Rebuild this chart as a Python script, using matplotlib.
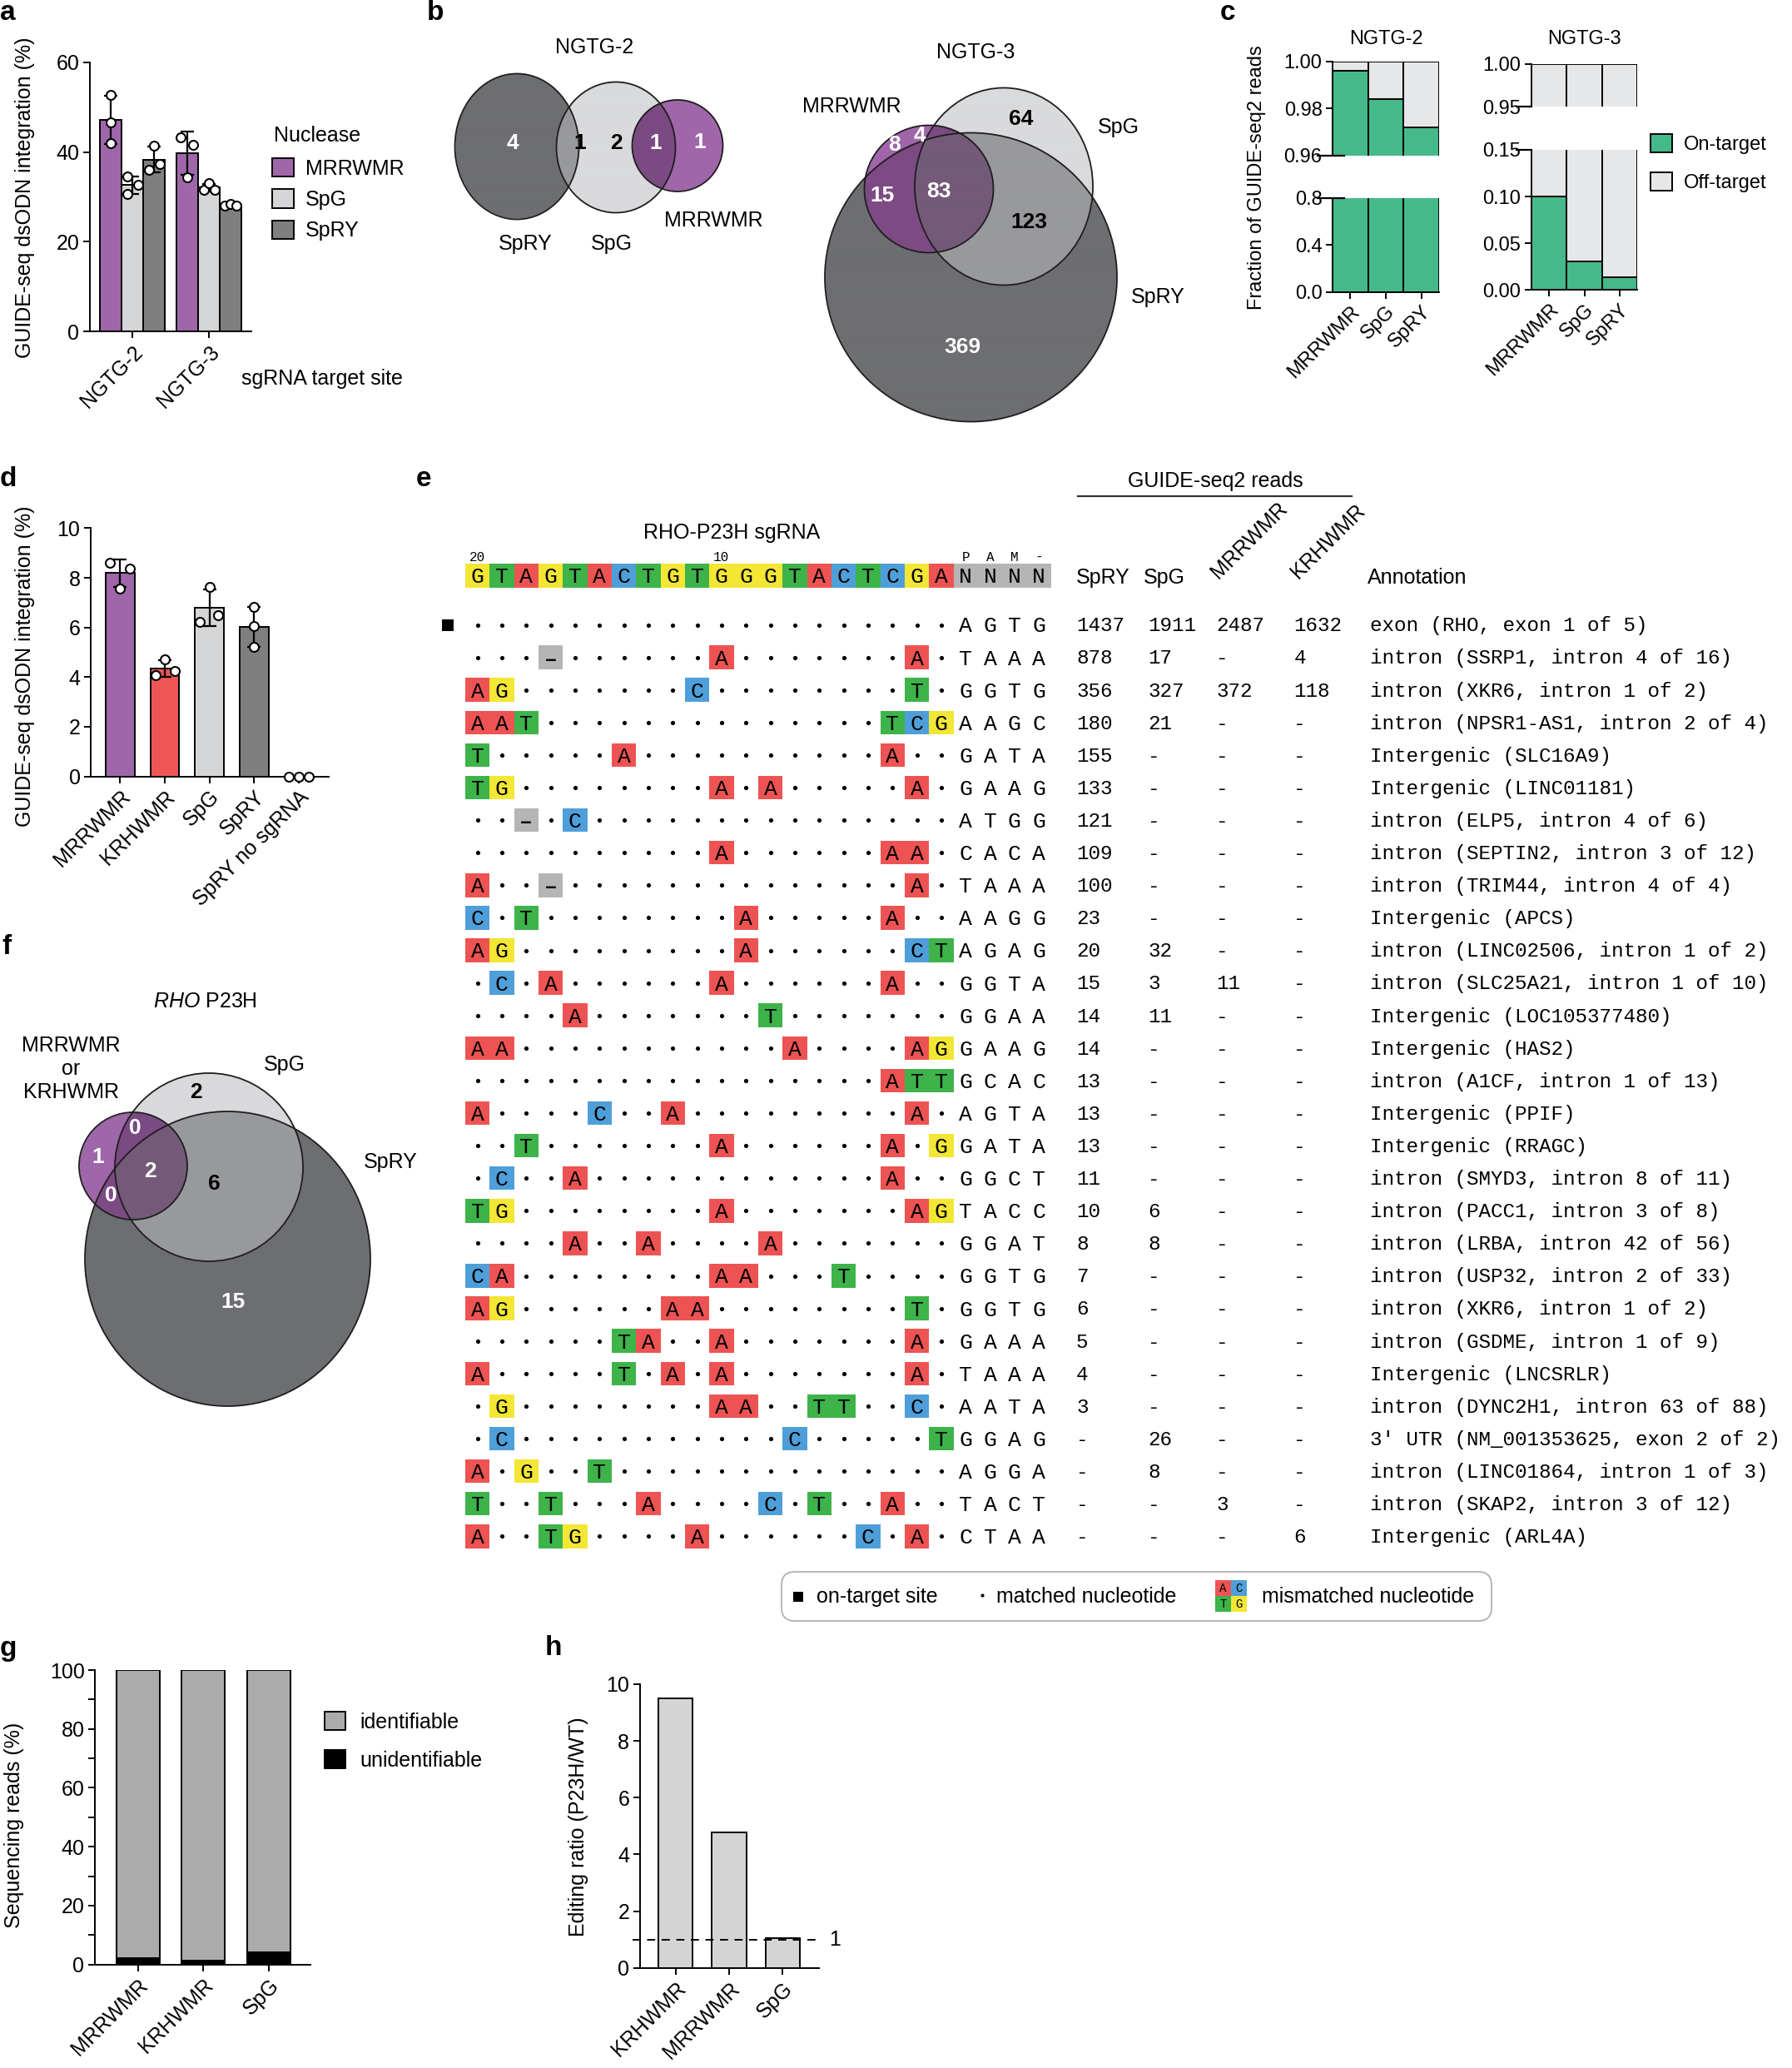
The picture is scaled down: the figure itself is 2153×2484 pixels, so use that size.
# Multi-panel figure: GUIDE-seq of SpRY-derived nucleases (panels a-h)
import numpy as np
import matplotlib.pyplot as plt
from matplotlib.colors import to_rgba
from matplotlib.patches import Rectangle, Ellipse, FancyBboxPatch, Patch
from matplotlib.transforms import blended_transform_factory

SANS = ['Liberation Sans', 'DejaVu Sans']
MONO = ['Liberation Mono', 'DejaVu Sans Mono']
plt.rcParams['font.family'] = SANS
plt.rcParams['mathtext.fontset'] = 'custom'
plt.rcParams['mathtext.rm'] = 'Liberation Sans'
plt.rcParams['mathtext.it'] = 'Liberation Sans:italic'

FS = 18      # general text size
FS_C = 17    # panel c text size

# ---------------- data ----------------
# a: GUIDE-seq dsODN integration (%), three replicates per site
a_sites = ['NGTG-2', 'NGTG-3']
a_nucleases = ['MRRWMR', 'SpG', 'SpRY']
a_mrrwmr = [[52.7, 46.7, 42.0], [43.3, 41.6, 34.3]]
a_spg = [[34.6, 32.7, 30.6], [31.6, 33.0, 31.6]]
a_spry = [[41.5, 36.0, 37.4], [28.1, 28.4, 28.1]]

# b: overlap of off-target sites (venn region counts)
b_ngtg2_counts = [4, 1, 2, 1, 1]          # SpRY, SpRY&SpG, SpG, SpG&MRRWMR, MRRWMR
b_ngtg3_counts = [64, 8, 4, 15, 83, 123, 369]  # SpG, MRR, MRR&SpG, MRR&SpRY, all, SpG&SpRY, SpRY

# c: fraction of on-target GUIDE-seq2 reads
c_nucleases = ['MRRWMR', 'SpG', 'SpRY']
c_ngtg2_on = [0.996, 0.984, 0.972]
c_ngtg3_on = [0.100, 0.031, 0.014]

# d: RHO-P23H GUIDE-seq dsODN integration (%)
d_nucleases = ['MRRWMR', 'KRHWMR', 'SpG', 'SpRY', 'SpRY no sgRNA']
d_reps = [[8.62, 8.38, 7.56], [4.06, 4.70, 4.24], [7.62, 6.22, 6.50],
          [6.83, 6.04, 5.21], [0.0, 0.0, 0.0]]

# e: off-target sites for RHO-P23H sgRNA
e_guide = 'GTAGTACTGTGGGTACTCGA'
e_pam_header = 'NNNN'
e_sites = [
    '....................', '...-......A.......A.', 'AG.......C........T.',
    'AAT..............TCG', 'T.....A..........A..', 'TG........A.A.....A.',
    '..-.C...............', '..........A......AA.', 'A..-..............A.',
    'C.T........A.....A..', 'AG.........A......CT', '.C.A......A......A..',
    '....A.......T.......', 'AA...........A....AG', '.................ATT',
    'A....C..A.........A.', '..T.......A......A.G', '.C..A............A..',
    'TG........A.......AG', '....A..A....A.......', 'CA........AA...T....',
    'AG......AA........T.', '......TA..A.......A.', 'A.....T.A.A.......A.',
    '.G........AA..TT..C.', '.C...........C.....T', 'A.G..T..............',
    'T..T...A....C.T..A..', 'A..TG....A......C.A.',
]
e_pams = ['AGTG', 'TAAA', 'GGTG', 'AAGC', 'GATA', 'GAAG', 'ATGG', 'CACA', 'TAAA',
          'AAGG', 'AGAG', 'GGTA', 'GGAA', 'GAAG', 'GCAC', 'AGTA', 'GATA', 'GGCT',
          'TACC', 'GGAT', 'GGTG', 'GGTG', 'GAAA', 'TAAA', 'AATA', 'GGAG', 'AGGA',
          'TACT', 'CTAA']
N = None
e_spry = [1437, 878, 356, 180, 155, 133, 121, 109, 100, 23, 20, 15, 14, 14, 13,
          13, 13, 11, 10, 8, 7, 6, 5, 4, 3, N, N, N, N]
e_spg = [1911, 17, 327, 21, N, N, N, N, N, N, 32, 3, 11, N, N,
         N, N, N, 6, 8, N, N, N, N, N, 26, 8, N, N]
e_mrrwmr = [2487, N, 372, N, N, N, N, N, N, N, N, 11, N, N, N,
            N, N, N, N, N, N, N, N, N, N, N, N, 3, N]
e_krhwmr = [1632, 4, 118, N, N, N, N, N, N, N, N, N, N, N, N,
            N, N, N, N, N, N, N, N, N, N, N, N, N, 6]
e_annot = [
    'exon (RHO, exon 1 of 5)', 'intron (SSRP1, intron 4 of 16)',
    'intron (XKR6, intron 1 of 2)', 'intron (NPSR1-AS1, intron 2 of 4)',
    'Intergenic (SLC16A9)', 'Intergenic (LINC01181)', 'intron (ELP5, intron 4 of 6)',
    'intron (SEPTIN2, intron 3 of 12)', 'intron (TRIM44, intron 4 of 4)',
    'Intergenic (APCS)', 'intron (LINC02506, intron 1 of 2)',
    'intron (SLC25A21, intron 1 of 10)', 'Intergenic (LOC105377480)',
    'Intergenic (HAS2)', 'intron (A1CF, intron 1 of 13)', 'Intergenic (PPIF)',
    'Intergenic (RRAGC)', 'intron (SMYD3, intron 8 of 11)',
    'intron (PACC1, intron 3 of 8)', 'intron (LRBA, intron 42 of 56)',
    'intron (USP32, intron 2 of 33)', 'intron (XKR6, intron 1 of 2)',
    'intron (GSDME, intron 1 of 9)', 'Intergenic (LNCSRLR)',
    'intron (DYNC2H1, intron 63 of 88)', "3' UTR (NM_001353625, exon 2 of 2)",
    'intron (LINC01864, intron 1 of 3)', 'intron (SKAP2, intron 3 of 12)',
    'Intergenic (ARL4A)',
]

# f: RHO P23H venn counts
f_counts = [2, 0, 1, 2, 6, 0, 15]  # SpG, MRR&SpG, MRR, all, SpG&SpRY, MRR&SpRY, SpRY

# g: identifiable reads (%)
g_nucleases = ['MRRWMR', 'KRHWMR', 'SpG']
g_unident = [2.1, 1.2, 4.1]
g_ident = [97.9, 98.8, 95.9]

# h: editing ratio
h_nucleases = ['KRHWMR', 'MRRWMR', 'SpG']
h_ratio = [9.5, 4.77, 1.05]

# ---------------- colours ----------------
PURPLE, RED, LGRAY, DGRAY = '#A066AA', '#EE5656', '#D4D5D7', '#7F7F7F'
GREEN, OFF = '#46B98A', '#E6E7E8'
BASE = {'A': '#EE5353', 'C': '#4E9FD9', 'G': '#F3E634', 'T': '#3DB34A',
        '-': '#B5B5B5', 'N': '#B5B5B5'}
REGION = {1: '#A066AA', 2: '#D9DADC', 3: '#7B4A82', 4: '#6D6E72',
          5: '#7D4B84', 6: '#98999C', 7: '#745A79'}

W, H = 2153, 2484
fig = plt.figure(figsize=(W / 100, H / 100), dpi=100)


def add_ax(x0, y0, x1, y1):
    ax = fig.add_axes([x0 / W, 1 - y1 / H, (x1 - x0) / W, (y1 - y0) / H])
    ax.patch.set_alpha(0)
    return ax


# overlay in pixel coordinates for free text
ov = add_ax(0, 0, W, H)
ov.set_xlim(0, W)
ov.set_ylim(H, 0)
ov.axis('off')


def bar_style(ax, fs=FS):
    ax.spines[['top', 'right']].set_visible(False)
    ax.spines[['left', 'bottom']].set_linewidth(1.4)
    ax.tick_params(width=1.4, length=6, labelsize=fs, pad=3)


def ylabel_px(ax, text, x, y, fs=FS):
    ax.set_ylabel(text, fontsize=fs, va='center')
    ax.yaxis.set_label_coords(x, y, transform=ov.transData)


def legend_px(ax, handles, labels, x, y, **kw):
    return ax.legend(handles, labels, loc='upper left', bbox_to_anchor=(x / W, 1 - y / H),
                     bbox_transform=fig.transFigure, frameon=False, borderpad=0,
                     borderaxespad=0, **kw)


# panel letters
for letter, (x, y) in zip('abcdefgh', [(0, 15), (513, 15), (1466, 15), (0, 576),
                                       (500, 576), (2, 1137), (0, 1980), (655, 1980)]):
    ov.text(x, y, letter, fontsize=24, fontweight='bold', ha='left', va='center')

# ---------------- a ----------------
ax = add_ax(108, 75, 302, 398)
bar_style(ax)
w = 0.28
a_jit = [[[0, 0, 0], [-0.09, 0.076, 0]],
         [[-0.065, 0.076, -0.065], [-0.065, 0, 0.076]],
         [[0, -0.065, 0.076], [-0.076, 0, 0.076]]]
for i, (reps, col) in enumerate(zip([a_mrrwmr, a_spg, a_spry], [PURPLE, LGRAY, DGRAY])):
    reps = np.array(reps)
    x = np.arange(len(a_sites)) + (i - 1) * w
    ax.bar(x, reps.mean(axis=1), w, color=col, edgecolor='black', lw=1.4, zorder=2)
    ax.errorbar(x, reps.mean(axis=1), yerr=reps.std(axis=1, ddof=1), fmt='none',
                ecolor='black', elinewidth=1.6, capsize=6, capthick=1.6, zorder=3)
    for j in range(len(a_sites)):
        ax.scatter(x[j] + np.array(a_jit[i][j]), reps[j], s=62, facecolor='white',
                   edgecolor='black', lw=1.5, zorder=4, clip_on=False)
ax.set_xlim(-0.554, 1.554)
ax.set_ylim(0, 60)
ax.set_yticks([0, 20, 40, 60])
ax.set_xticks(range(2), a_sites, rotation=45, ha='right', rotation_mode='anchor')
ylabel_px(ax, 'GUIDE-seq dsODN integration (%)', 30, 237)
ov.text(290, 455, 'sgRNA target site', fontsize=FS, va='center')
ov.text(329, 163, 'Nuclease', fontsize=FS, va='center')
legend_px(ax, [Patch(fc=c, ec='black', lw=1.4) for c in [PURPLE, LGRAY, DGRAY]],
          a_nucleases, 327, 190, fontsize=FS, handlelength=1.05, handleheight=1.0,
          handletextpad=0.55, labelspacing=0.5)


# ---------------- b, f : venn diagrams ----------------
def venn3(ax, shapes, x0, y0, x1, y1, step=0.5):
    xs = np.arange(x0, x1, step)
    ys = np.arange(y0, y1, step)
    X, Y = np.meshgrid(xs, ys)
    code = np.zeros(X.shape, int)
    for bit, (ex, ey, ew, eh) in zip([1, 2, 4], shapes):
        code += bit * ((((X - ex) / (ew / 2)) ** 2 + ((Y - ey) / (eh / 2)) ** 2) <= 1)
    img = np.ones(X.shape + (4,))
    img[..., 3] = 0
    for k, col in REGION.items():
        img[code == k] = to_rgba(col)
    ax.imshow(img, extent=(x0, x1, y1, y0), origin='upper', aspect='auto',
              interpolation='bilinear')
    for ex, ey, ew, eh in shapes:
        ax.add_patch(Ellipse((ex, ey), ew, eh, fill=False, ec='#1E1E1E', lw=1.3))
    ax.set_xlim(x0, x1)
    ax.set_ylim(y1, y0)
    ax.axis('off')


axb = add_ax(520, 30, 1430, 530)
# shapes: MRRWMR, SpG, SpRY  (centre x, centre y, width, height)
venn3(axb, [(814, 175, 109, 110), (740, 177, 143, 157), (621, 176, 149, 175)],
      520, 30, 1430, 530)
venn3(axb, [(1116, 227, 155, 153), (1206, 224, 214, 237), (1166.5, 333, 351, 347)],
      520, 30, 1430, 530)
b2_pos = [(616, 172, 'white'), (697, 172, 'black'), (740, 172, 'black'),
          (788, 172, 'white'), (841, 171, 'white')]
for n, (x, y, c) in zip(b_ngtg2_counts, b2_pos):
    axb.text(x, y, str(n), color=c, fontsize=19, fontweight='bold', ha='center', va='center')
b3_pos = [(1227, 143, 'black'), (1075, 174, 'white'), (1105, 163, 'white'),
          (1060, 235, 'white'), (1128, 230, 'white'), (1236, 267, 'black'),
          (1156, 417, 'white')]
for n, (x, y, c) in zip(b_ngtg3_counts, b3_pos):
    axb.text(x, y, str(n), color=c, fontsize=19, fontweight='bold', ha='center', va='center')
for s, x, y in [('NGTG-2', 714, 57), ('SpRY', 631, 293), ('SpG', 735, 293),
                ('MRRWMR', 857, 265), ('NGTG-3', 1172, 63), ('MRRWMR', 1023, 128),
                ('SpG', 1344, 153), ('SpRY', 1391, 357)]:
    axb.text(x, y, s, fontsize=FS, ha='center', va='center')

axf = add_ax(0, 1160, 530, 1720)
venn3(axf, [(160, 1400.5, 130, 129), (251, 1402, 226, 226), (273.5, 1512, 343, 354)],
      0, 1160, 530, 1720)
f_pos = [(235, 1312, 'black'), (162, 1355, 'white'), (118, 1390, 'white'),
         (180, 1407, 'white'), (257, 1422, 'black'), (133, 1436, 'white'),
         (280, 1564, 'white')]
for n, (x, y, c) in zip(f_counts, f_pos):
    axf.text(x, y, str(n), color=c, fontsize=19, fontweight='bold', ha='center', va='center')
axf.text(246, 1203, r'$\mathit{RHO}$ P23H', fontsize=FS, ha='center', va='center')
axf.text(85, 1284, 'MRRWMR\nor\nKRHWMR', fontsize=FS, ha='center', va='center',
         linespacing=1.2)
axf.text(342, 1279, 'SpG', fontsize=FS, ha='center', va='center')
axf.text(469, 1396, 'SpRY', fontsize=FS, ha='center', va='center')

# ---------------- c : broken-axis stacked bars ----------------
c_panels = [
    (c_ngtg2_on, 'NGTG-2', (1601, 1729), (74, 186.7), (238, 350.7),
     (0.96, 1.0), [1.00, 0.98, 0.96], '{:.2f}', (0, 0.8), [0.0, 0.4, 0.8], '{:.1f}', 0.11),
    (c_ngtg3_on, 'NGTG-3', (1840, 1967), (76.7, 128.3), (180, 348.3),
     (0.95, 1.0), [1.00, 0.95], '{:.2f}', (0, 0.15), [0.0, 0.05, 0.10, 0.15], '{:.2f}', 0.0),
]
for on, title, (x0, x1), top, bot, tlim, tt, tf, blim, bt, bf, brk in c_panels:
    on = np.array(on)
    x = np.arange(len(c_nucleases))
    axes_pair = [add_ax(x0, top[0], x1, top[1]), add_ax(x0, bot[0], x1, bot[1])]
    for k, axc in enumerate(axes_pair):
        bar_style(axc, fs=FS_C)
        axc.bar(x, on, 1.0, color=GREEN, edgecolor='black', lw=1.4)
        axc.bar(x, 1 - on, 1.0, bottom=on, color=OFF, edgecolor='black', lw=1.4)
        axc.set_xlim(-0.5, 2.5)
        lim, ticks, fmt = (tlim, tt, tf) if k == 0 else (blim, bt, bf)
        axc.set_ylim(*lim)
        axc.set_yticks(ticks, [fmt.format(t) for t in ticks])
        # break marks
        brk_y = lim[0] if k == 0 else lim[1]
        trans = blended_transform_factory(axc.transAxes, axc.transData)
        axc.plot([-0.14, brk], [brk_y, brk_y], color='black', lw=1.6,
                 transform=trans, clip_on=False, zorder=5)
    axes_pair[0].spines['bottom'].set_visible(False)
    axes_pair[0].tick_params(axis='x', bottom=False, labelbottom=False)
    axes_pair[1].set_xticks(x, c_nucleases, rotation=45, ha='right', rotation_mode='anchor')
    ov.text((x0 + x1) / 2, 47, title, fontsize=FS_C, ha='center', va='center')
ov.text(1510, 213, 'Fraction of GUIDE-seq2 reads', fontsize=FS_C, rotation=90,
        ha='center', va='center')
legend_px(axes_pair[1], [Patch(fc=GREEN, ec='black', lw=1.4), Patch(fc=OFF, ec='black', lw=1.4)],
          ['On-target', 'Off-target'], 1983, 161, fontsize=FS_C, handlelength=1.1,
          handleheight=1.05, handletextpad=0.6, labelspacing=0.95)

# ---------------- d ----------------
ax = add_ax(109, 634.4, 395, 932.5)
bar_style(ax)
d_cols = [PURPLE, RED, LGRAY, DGRAY, DGRAY]
d_jit = [[-0.22, 0.22, 0], [-0.2, 0, 0.22], [0, -0.22, 0.2], [0, 0, 0], [-0.22, 0, 0.22]]
reps = np.array(d_reps)
x = np.arange(len(d_nucleases))
ax.bar(x, reps.mean(axis=1), 0.646, color=d_cols, edgecolor='black', lw=1.4, zorder=2)
ax.errorbar(x, reps.mean(axis=1), yerr=reps.std(axis=1, ddof=1), fmt='none',
            ecolor='black', elinewidth=1.6, capsize=6, capthick=1.6, zorder=3)
for i in range(len(d_nucleases)):
    ax.scatter(x[i] + np.array(d_jit[i]), reps[i], s=62, facecolor='white',
               edgecolor='black', lw=1.5, zorder=4, clip_on=False)
ax.set_xlim(-0.657, 4.67)
ax.set_ylim(0, 10)
ax.set_yticks(range(0, 11, 2))
ax.set_xticks(x, d_nucleases, rotation=45, ha='right', rotation_mode='anchor')
ylabel_px(ax, 'GUIDE-seq dsODN integration (%)', 30, 800)

# ---------------- e : off-target table ----------------
COLW, ROWH = 29.33, 39.1
X1, Y1 = 573.6, 750.5


def cx(px):
    return (px - X1) / COLW + 1


def ry(py):
    return (py - Y1) / ROWH + 1


axe = add_ax(515, 560, 2153, 1880)
axe.set_xlim(cx(515), cx(2153))
axe.set_ylim(ry(1880), ry(560))
axe.axis('off')

HDR = ry(691.5)
for c, b in enumerate(e_guide + e_pam_header, start=1):
    axe.add_patch(Rectangle((c - 0.5, HDR - 0.37), 1, 0.74, color=BASE[b], lw=0))
    axe.text(c, HDR + 0.23, b, family=MONO, fontsize=19, ha='center', va='baseline')
for c, s in [(1, '20'), (11, '10'), (21, 'P'), (22, 'A'), (23, 'M'), (24, '-')]:
    axe.text(c, ry(669), s, family=MONO, fontsize=11.5, ha='center', va='center')
axe.text(11.4, ry(640), 'RHO-P23H sgRNA', fontsize=FS, ha='center', va='center')

dot_x, dot_y = [], []
for r, (site, pam) in enumerate(zip(e_sites, e_pams), start=1):
    for c, ch in enumerate(site, start=1):
        if ch == '.':
            dot_x.append(c)
            dot_y.append(r)
        else:
            axe.add_patch(Rectangle((c - 0.5, r - 0.365), 1, 0.73, color=BASE[ch], lw=0))
            glyph = '\u2013' if ch == '-' else ch
            axe.text(c, r + 0.23, glyph, family=MONO, fontsize=19, ha='center',
                     va='baseline', fontweight='bold' if ch == '-' else 'normal')
    for k, ch in enumerate(pam):
        axe.text(21 + k, r + 0.23, ch, family=MONO, fontsize=19, ha='center', va='baseline')
axe.scatter(dot_x, dot_y, s=14, c='black', lw=0)
axe.scatter([cx(538)], [1], marker='s', s=90, c='black', lw=0)

read_cols = [e_spry, e_spg, e_mrrwmr, e_krhwmr]
read_x = [1293, 1379, 1461, 1554.5]
for vals, px in zip(read_cols, read_x):
    for r, v in enumerate(vals, start=1):
        axe.text(cx(px), r + 0.2, '-' if v is None else str(v), family=MONO,
                 fontsize=17.5, ha='left', va='baseline')
for r, s in enumerate(e_annot, start=1):
    axe.text(cx(1646), r + 0.2, s, family=MONO, fontsize=17.5, ha='left', va='baseline')

hdr_y = ry(694)
axe.text(cx(1293), hdr_y, 'SpRY', fontsize=FS, ha='left', va='center')
axe.text(cx(1374), hdr_y, 'SpG', fontsize=FS, ha='left', va='center')
axe.text(cx(1468), ry(700), 'MRRWMR', fontsize=FS, ha='left', va='bottom',
         rotation=45, rotation_mode='anchor')
axe.text(cx(1564), ry(700), 'KRHWMR', fontsize=FS, ha='left', va='bottom',
         rotation=45, rotation_mode='anchor')
axe.text(cx(1643), hdr_y, 'Annotation', fontsize=FS, ha='left', va='center')
axe.text(cx(1460), ry(578), 'GUIDE-seq2 reads', fontsize=FS, ha='center', va='center')
axe.plot([cx(1295), cx(1624)], [ry(596), ry(596)], color='#333333', lw=1.6)

# legend box for e
ov.add_patch(FancyBboxPatch((939, 1888), 853, 59, boxstyle='round,pad=0,rounding_size=16',
                            fc='white', ec='#B0B0B0', lw=1.3))
ov.scatter([959], [1918], marker='s', s=70, c='black', lw=0)
ov.text(981, 1918, 'on-target site', fontsize=FS, va='center')
ov.scatter([1180], [1916], s=9, c='black', lw=0)
ov.text(1197, 1918, 'matched nucleotide', fontsize=FS, va='center')
for b, dx, dy in [('A', 0, 0), ('C', 1, 0), ('T', 0, 1), ('G', 1, 1)]:
    ov.add_patch(Rectangle((1460 + dx * 19, 1898 + dy * 19), 19, 19, color=BASE[b], lw=0))
    ov.text(1469.5 + dx * 19, 1908 + dy * 19, b, family=MONO, fontsize=10,
            ha='center', va='center')
ov.text(1516, 1918, 'mismatched nucleotide', fontsize=FS, va='center')

# ---------------- g ----------------
ax = add_ax(114, 2006, 373, 2359.7)
bar_style(ax)
x = np.arange(len(g_nucleases))
ax.bar(x, g_unident, 0.66, color='black', edgecolor='black', lw=1.4)
ax.bar(x, g_ident, 0.66, bottom=g_unident, color='#ABABAB', edgecolor='black', lw=1.4)
ax.set_xlim(-0.659, 2.64)
ax.set_ylim(0, 100)
ax.set_yticks(range(0, 101, 10), [str(t) if t % 20 == 0 else '' for t in range(0, 101, 10)])
ax.set_xticks(x, g_nucleases, rotation=45, ha='right', rotation_mode='anchor')
ylabel_px(ax, 'Sequencing reads (%)', 17, 2192)
legend_px(ax, [Patch(fc='#ABABAB', ec='black', lw=1.4), Patch(fc='black', ec='black', lw=1.4)],
          ['identifiable', 'unidentifiable'], 390, 2056, fontsize=FS, handlelength=1.0,
          handleheight=1.0, handletextpad=0.7, labelspacing=0.85)

# ---------------- h ----------------
ax = add_ax(768.7, 2023, 983.7, 2363.8)
bar_style(ax)
x = np.arange(len(h_nucleases))
ax.bar(x, h_ratio, 0.646, color='#D4D4D4', edgecolor='black', lw=1.4)
ax.axhline(1, xmin=-0.042, xmax=1.01, color='black', lw=1.4, ls=(0, (5, 4)),
           clip_on=False, zorder=5)
ax.text(1.09, 1, '1', transform=blended_transform_factory(ax.transAxes, ax.transData),
        fontsize=FS, ha='center', va='center')
ax.set_xlim(-0.664, 2.67)
ax.set_ylim(0, 10)
ax.set_yticks(range(0, 11, 2))
ax.set_xticks(x, h_nucleases, rotation=45, ha='right', rotation_mode='anchor')
ylabel_px(ax, 'Editing ratio (P23H/WT)', 695, 2194)

fig.savefig('out.png', dpi=100, facecolor='white')
